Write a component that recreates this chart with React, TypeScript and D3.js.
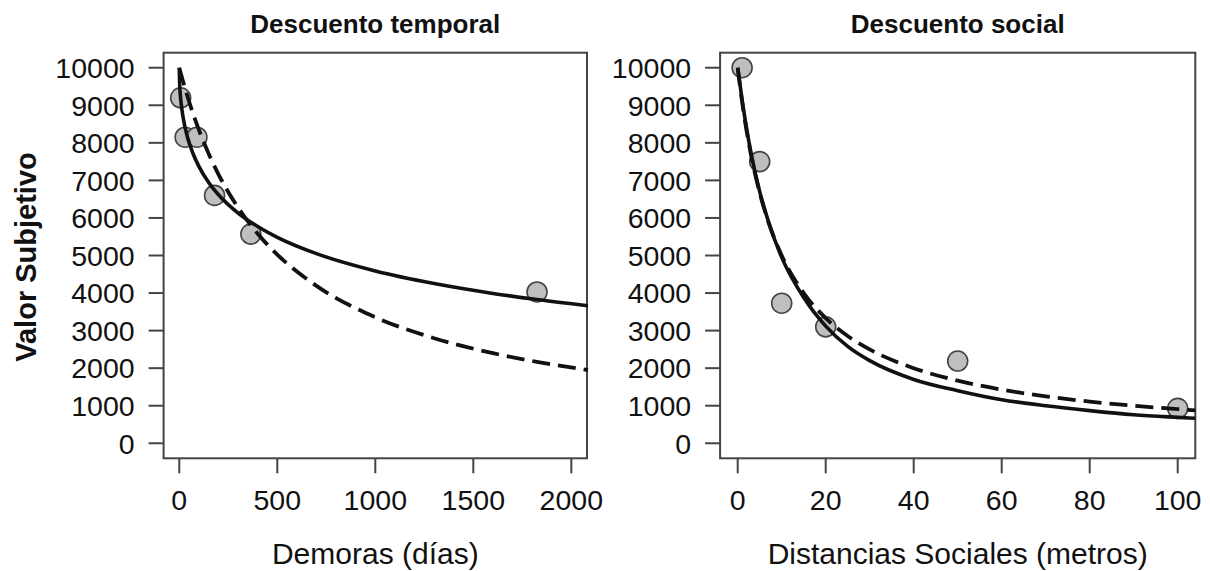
import React from "react";
import * as d3 from "d3";

// Temporal discounting: observed points
const delays = [7, 30, 90, 180, 365, 1825];
const delayValues = [9200, 8150, 8150, 6600, 5570, 4030];
// fitted curves
const delayCurveX = [0, 2, 5, 10, 20, 40, 70, 100, 150, 200, 300, 400, 500, 700, 1000, 1300, 1600, 1825, 2085];
const delaySolid = [10000, 9555, 9302, 9029, 8663, 8188, 7716, 7374, 6944, 6618, 6131, 5772, 5485, 5049, 4587, 4252, 3990, 3827, 3664];
const delayDashed = [10000, 9961, 9902, 9806, 9619, 9266, 8783, 8347, 7710, 7163, 6274, 5580, 5025, 4191, 3356, 2798, 2399, 2168, 1950];

// Social discounting
const distances = [1, 5, 10, 20, 50, 100];
const distanceValues = [10000, 7500, 3730, 3100, 2190, 930];
const distanceCurveX = [0, 1, 2, 3, 5, 7, 10, 15, 20, 25, 30, 40, 50, 60, 70, 80, 90, 100, 104];
const distanceSolid = [10000, 9150, 8400, 7750, 6700, 5900, 4950, 3880, 3120, 2580, 2200, 1700, 1400, 1160, 1000, 870, 760, 690, 665];
const distanceDashed = [10000, 9091, 8333, 7692, 6667, 5882, 5000, 4000, 3333, 2857, 2500, 2000, 1667, 1429, 1250, 1111, 1000, 909, 877];

const yTicks = [0, 1000, 2000, 3000, 4000, 5000, 6000, 7000, 8000, 9000, 10000];
const delayTicks = [0, 500, 1000, 1500, 2000];
const distanceTicks = [0, 20, 40, 60, 80, 100];

const FONT = "'Liberation Sans', Arial, Helvetica, sans-serif";
const TOP = 52.7, BOTTOM = 458.3;

type PanelProps = {
  left: number; right: number; domain: [number, number];
  title: string; xLabel: string; xTicks: number[];
  px: number[]; py: number[];
  cx: number[]; solid: number[]; dashed: number[];
};

const Panel = ({ left, right, domain, title, xLabel, xTicks, px, py, cx, solid, dashed }: PanelProps) => {
  const x = d3.scaleLinear().domain(domain).range([left, right]);
  const y = d3.scaleLinear().domain([-400, 10400]).range([BOTTOM, TOP]);
  const line = d3.line<number>().x((_, i) => x(cx[i])).curve(d3.curveMonotoneX);
  const solidPath = line.y(d => y(d))(solid) || "";
  const dashedPath = line.y(d => y(d))(dashed) || "";
  const mid = (left + right) / 2;
  const axisColor = "#444";
  return (
    <g>
      <text x={mid} y={33} textAnchor="middle" fontFamily={FONT} fontWeight="bold" fontSize={26} fill="#111">{title}</text>
      <rect x={left} y={TOP} width={right - left} height={BOTTOM - TOP} fill="none" stroke={axisColor} strokeWidth={2} />
      {yTicks.map(t => (
        <g key={t}>
          <line x1={left - 15} x2={left} y1={y(t)} y2={y(t)} stroke={axisColor} strokeWidth={2} />
          <text x={left - 29} y={y(t)} dy="0.36em" textAnchor="end" fontFamily={FONT} fontSize={28.5} fill="#111">{t}</text>
        </g>
      ))}
      {xTicks.map(t => (
        <g key={t}>
          <line x1={x(t)} x2={x(t)} y1={BOTTOM} y2={BOTTOM + 15} stroke={axisColor} strokeWidth={2} />
          <text x={x(t)} y={510} textAnchor="middle" fontFamily={FONT} fontSize={28.5} fill="#111">{t}</text>
        </g>
      ))}
      <text x={mid} y={564} textAnchor="middle" fontFamily={FONT} fontSize={30} fill="#111">{xLabel}</text>
      {px.map((d, i) => (
        <circle key={i} cx={x(d)} cy={y(py[i])} r={10} fill="#bfbfbf" stroke="#444" strokeWidth={1.6} />
      ))}
      <path d={dashedPath} fill="none" stroke="#111" strokeWidth={3.8} strokeDasharray="18 8" />
      <path d={solidPath} fill="none" stroke="#111" strokeWidth={3.6} />
    </g>
  );
};

export default function App() {
  return (
    <svg width={1210} height={571} style={{ position: "absolute", left: 0, top: 0, background: "#fff" }}>
      <rect width={1210} height={571} fill="#fff" />
      <text transform="translate(36,257) rotate(-90)" textAnchor="middle" fontFamily={FONT} fontWeight="bold" fontSize={29} fill="#111">Valor Subjetivo</text>
      <Panel left={163.6} right={587} domain={[-80, 2080]} title="Descuento temporal" xLabel="Demoras (días)"
        xTicks={delayTicks} px={delays} py={delayValues} cx={delayCurveX} solid={delaySolid} dashed={delayDashed} />
      <Panel left={720.1} right={1195.3} domain={[-4, 104]} title="Descuento social" xLabel="Distancias Sociales (metros)"
        xTicks={distanceTicks} px={distances} py={distanceValues} cx={distanceCurveX} solid={distanceSolid} dashed={distanceDashed} />
    </svg>
  );
}
